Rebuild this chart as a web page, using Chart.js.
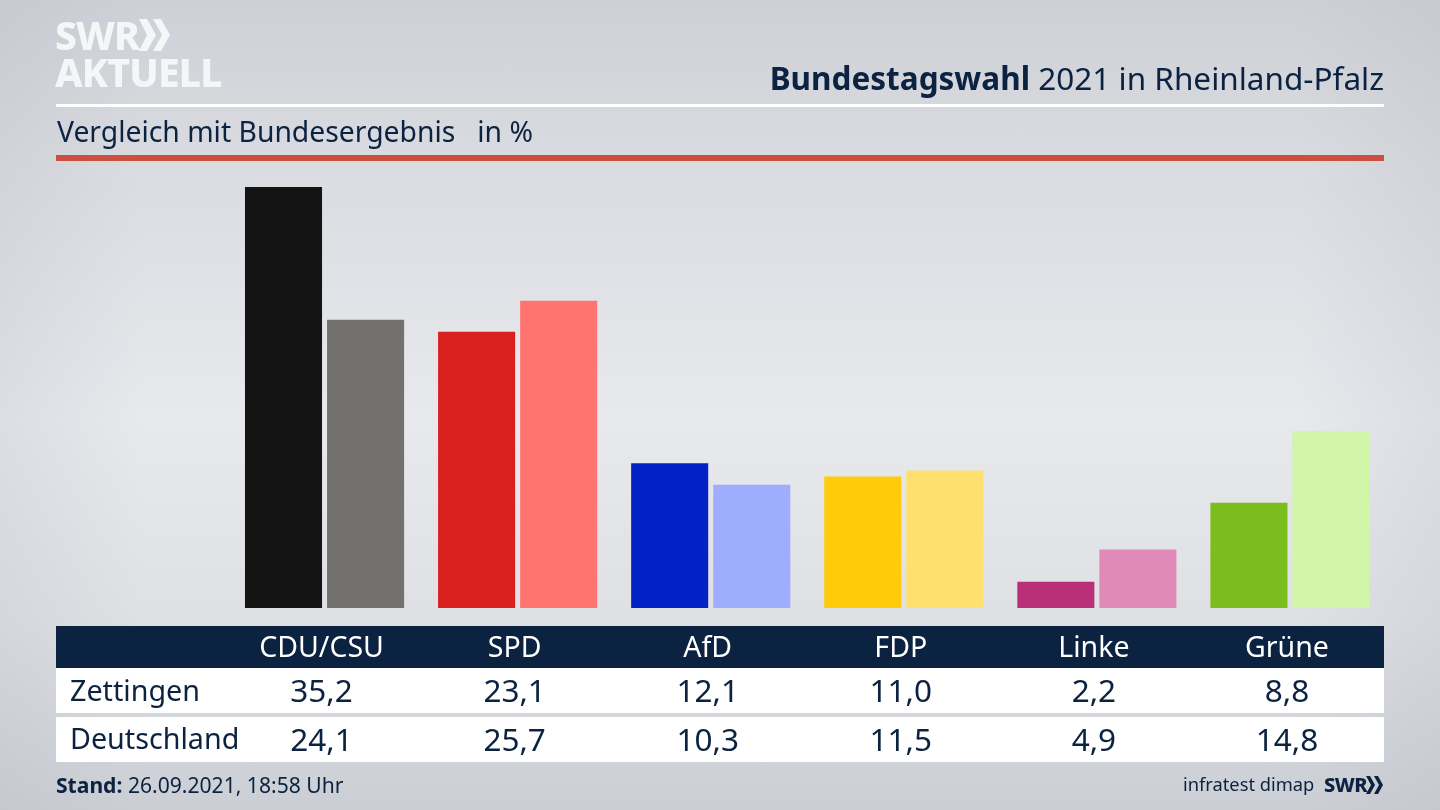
<!DOCTYPE html>
<html lang="de">
<head>
<meta charset="utf-8">
<title>Bundestagswahl 2021 in Rheinland-Pfalz</title>
<script src="https://cdn.jsdelivr.net/npm/chart.js@4"></script>
<style>
  html, body { margin: 0; padding: 0; }
  body {
    width: 1440px; height: 810px; overflow: hidden; position: relative;
    font-family: "Noto Sans", sans-serif; color: #0b2240;
    background:
      linear-gradient(90deg, rgba(175,178,186,.2) 0, rgba(175,178,186,0) 10%, rgba(175,178,186,0) 90%, rgba(175,178,186,.2) 100%),
      linear-gradient(180deg, #cdd0d6 0, #dadce1 170px, #e7e9ed 420px, #dee0e4 620px, #cbced4 810px);
  }
  canvas { position: absolute; left: 0; top: 0; }
  .abs { position: absolute; white-space: nowrap; }
  .logo { color: #f5f6f8; font-weight: 800; line-height: 1; }
  .rule { position: absolute; left: 56px; width: 1328px; }
  .band { position: absolute; left: 56px; width: 1328px; }
  .cell { position: absolute; transform: translateX(-50%); white-space: nowrap; line-height: 1; }
</style>
</head>
<body>
<canvas id="chart" width="1440" height="810"></canvas>

<div class="abs logo" style="left:55px;top:15px;font-size:39px;letter-spacing:-1px">SWR</div>
<svg class="abs" style="left:138px;top:18px" width="34" height="34" viewBox="0 0 34 34">
  <polygon points="1,1 9,1 18,17 9,33 1,33 9,17" fill="#f5f6f8"/>
  <polygon points="15,1 23,1 32,17 23,33 15,33 24,17" fill="#f5f6f8"/>
</svg>
<div class="abs logo" style="left:55px;top:52px;font-size:39px;letter-spacing:-.8px">AKTUELL</div>

<div class="abs" style="right:56px;top:59px;font-size:31.5px;line-height:1.2"><b>Bundestagswahl</b> 2021 in Rheinland-Pfalz</div>
<div class="rule" style="top:104px;height:3px;background:#fff"></div>
<div class="abs" style="left:57px;top:115px;font-size:28.3px;line-height:1.2">Vergleich mit Bundesergebnis &nbsp; in %</div>
<div class="rule" style="top:155px;height:5.5px;background:#cb513e"></div>

<div class="band" style="top:626px;height:42px;background:#0b2240"></div>
<div class="band" style="top:668px;height:45px;background:#fff"></div>
<div class="band" style="top:717px;height:45px;background:#fff"></div>
<div id="table"></div>

<div class="abs" style="left:56px;top:772px;font-size:21.1px;line-height:1.2"><b>Stand:</b> 26.09.2021, 18:58 Uhr</div>
<div class="abs" style="left:1183px;top:773px;font-size:18.3px;line-height:1.2">infratest dimap</div>
<div class="abs" style="left:1324px;top:773px;font-size:20px;line-height:1.2;font-weight:800;letter-spacing:-.5px">SWR</div>
<svg class="abs" style="left:1366px;top:776px" width="18" height="18" viewBox="0 0 18 18">
  <polygon points="0,0 4,0 9,9 4,18 0,18 5,9" fill="#0b2240"/>
  <polygon points="8,0 12,0 17,9 12,18 8,18 13,9" fill="#0b2240"/>
</svg>

<script>
// Daten
const parties = ['CDU/CSU', 'SPD', 'AfD', 'FDP', 'Linke', 'Grüne'];
const zettingen = [35.2, 23.1, 12.1, 11.0, 2.2, 8.8];
const deutschland = [24.1, 25.7, 10.3, 11.5, 4.9, 14.8];
const colorsZettingen = ['#141414', '#d8201e', '#0222c6', '#ffcb0a', '#bb2f78', '#7abd1c'];
const colorsDeutschland = ['#72716f', '#ff746e', '#9fadff', '#ffdf6f', '#e08ab8', '#d2f6a8'];

const chart = new Chart(document.getElementById('chart').getContext('2d'), {
  type: 'bar',
  data: {
    labels: parties,
    datasets: [
      { label: 'Zettingen', data: zettingen, backgroundColor: colorsZettingen },
      { label: 'Deutschland', data: deutschland, backgroundColor: colorsDeutschland }
    ]
  },
  options: {
    responsive: false,
    animation: false,
    categoryPercentage: 0.85,
    barPercentage: 0.939,
    layout: { padding: { left: 228, right: 53.5, top: 129.6, bottom: 202 } },
    plugins: { legend: { display: false }, tooltip: { enabled: false } },
    scales: {
      x: { display: false },
      y: { display: false, min: 0, max: 40 }
    }
  }
});

// Tabelle unter den Balken, an den Kategorien der x-Achse ausgerichtet
const table = document.getElementById('table');
const fmt = v => v.toFixed(1).replace('.', ',');

function addCell(text, x, y, size, color) {
  const el = document.createElement('div');
  el.className = 'cell';
  el.textContent = text;
  el.style.left = x + 'px';
  el.style.top = y + 'px';
  el.style.fontSize = size + 'px';
  if (color) el.style.color = color;
  table.appendChild(el);
}

function addRowLabel(text, y) {
  const el = document.createElement('div');
  el.className = 'abs';
  el.style.cssText = 'left:70px;font-size:28.7px;line-height:1;top:' + y + 'px';
  el.textContent = text;
  table.appendChild(el);
}

addRowLabel('Zettingen', 676);
addRowLabel('Deutschland', 724);
parties.forEach((name, i) => {
  const x = chart.scales.x.getPixelForValue(i) - 3;
  addCell(name, x, 632, 28.5, '#ffffff');
  addCell(fmt(zettingen[i]), x, 674, 31.5);
  addCell(fmt(deutschland[i]), x, 723, 31.5);
});
</script>
</body>
</html>
